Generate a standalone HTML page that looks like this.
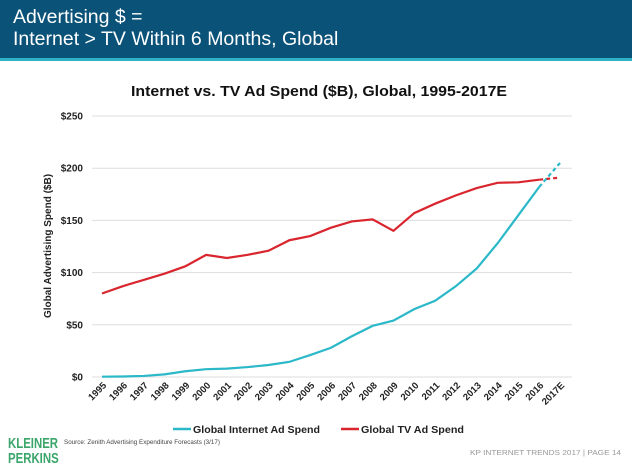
<!DOCTYPE html>
<html><head><meta charset="utf-8"><style>
body{margin:0;width:632px;height:472px;background:#fff;font-family:"Liberation Sans",sans-serif;position:relative;overflow:hidden}
.hdr{position:absolute;left:0;top:0;width:632px;height:58px;background:#0b5279}
.hdr2{position:absolute;left:0;top:58px;width:632px;height:3px;background:#2fb3c4}
.t{position:absolute;left:13px;color:#fff;font-size:19.5px;line-height:22px}
</style></head><body>
<div class="hdr"></div>
<div class="hdr2"></div>
<div class="t" style="top:6px">Advertising $ =<br>Internet &gt; TV Within 6 Months, Global</div>
<svg id="c" width="632" height="472" style="position:absolute;left:0;top:0"></svg>
<div style="position:absolute;left:8px;top:436px;color:#3aa56a;font-weight:bold;font-size:15px;line-height:15px;transform:scaleX(0.76);transform-origin:left">KLEINER<br>PERKINS</div>
<script>
const years=["1995","1996","1997","1998","1999","2000","2001","2002","2003","2004","2005","2006","2007","2008","2009","2010","2011","2012","2013","2014","2015","2016","2017E"];
const internet=[0.3,0.5,1,2.5,5.5,7.5,8,9.5,11.5,14.5,21,28,39,49,54,65,73,87,104,128,155,182,205];
const tv=[80,87,93,99,106,117,114,117,121,131,135,143,149,151,140,157,166,174,181,186,186.5,189,191];
const ticks=[0,50,100,150,200,250];
const tickLabels=["$0","$50","$100","$150","$200","$250"];
const NS="http://www.w3.org/2000/svg",svg=document.getElementById('c');
const x=i=>102+i*(458/22), y=v=>377-v*(261/250);
function el(t,a,txt){const e=document.createElementNS(NS,t);for(const k in a)e.setAttribute(k,a[k]);if(txt!=null)e.textContent=txt;svg.appendChild(e);return e;}
let e=el('text',{x:131,y:96,'font-size':15,'font-weight':'bold',fill:'#111',textLength:376,lengthAdjust:'spacingAndGlyphs'},'Internet vs. TV Ad Spend ($B), Global, 1995-2017E');


ticks.forEach((t,i)=>{
 let g=el('line',{x1:92,x2:572,y1:y(t),y2:y(t),stroke:'#ddd','stroke-width':1});
 
 
 let l=el('text',{x:83,y:y(t)+3.5,'text-anchor':'end','font-size':10,'font-weight':'bold',fill:'#222'},tickLabels[i]);
 
 
});
years.forEach((yr,i)=>{
 let l=el('text',{x:x(i)+5,y:386,'text-anchor':'end','font-size':9.5,'font-weight':'bold',fill:'#222',transform:`rotate(-45 ${x(i)+5} 386)`},yr);
 
 
});
e=el('text',{x:0,y:0,'text-anchor':'middle','font-size':10,'font-weight':'bold',fill:'#222',transform:`translate(51 246) rotate(-90)`},'Global Advertising Spend ($B)');


function series(vals,color,name){
 const n=vals.length;
 let p=vals.slice(0,n-1).map((v,i)=>x(i)+','+y(v)).join(' ');
 let s=el('polyline',{points:p,fill:'none',stroke:color,'stroke-width':2.2});
 
 
 let d=el('line',{x1:x(n-2),y1:y(vals[n-2]),x2:x(n-1),y2:y(vals[n-1]),stroke:color,'stroke-width':2.2,'stroke-dasharray':'4,3'});
 
 
}
series(tv,'#d9262e','tv');
series(internet,'#2bb8c8','internet');
[['#2bb8c8','Global Internet Ad Spend',173,127],['#d9262e','Global TV Ad Spend',341,103]].forEach(([c,t,lx,w])=>{
 let l=el('line',{x1:lx,x2:lx+18,y1:429,y2:429,stroke:c,'stroke-width':2.5});
 
 
 let tx=el('text',{x:lx+20,y:433,'font-size':10.5,'font-weight':'bold',fill:'#222',textLength:w,lengthAdjust:'spacingAndGlyphs'},t);
 
 
});
e=el('text',{x:64,y:444,'font-size':6,fill:'#444',textLength:156,lengthAdjust:'spacingAndGlyphs'},'Source: Zenith Advertising Expenditure Forecasts (3/17)');


e=el('text',{x:470,y:455,'font-size':7,fill:'#999',textLength:151,lengthAdjust:'spacingAndGlyphs'},'KP INTERNET TRENDS 2017  |  PAGE 14');


</script>
</body></html>
